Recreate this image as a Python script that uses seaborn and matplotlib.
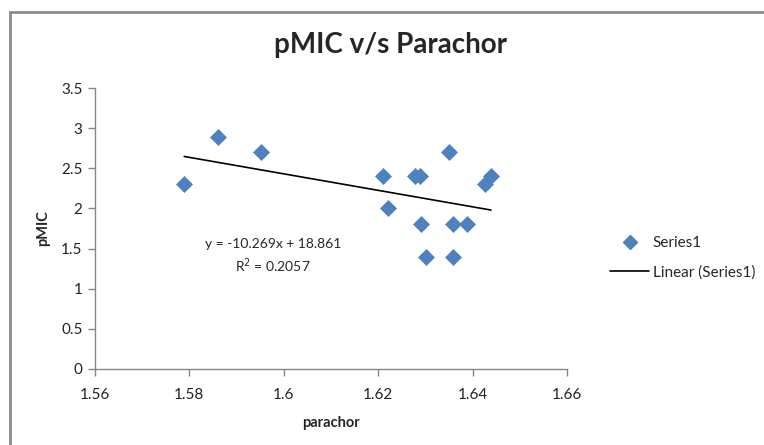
import matplotlib
matplotlib.use("Agg")
import matplotlib.pyplot as plt
import seaborn as sns
import pandas as pd
import numpy as np
from matplotlib.lines import Line2D
from matplotlib.patches import Rectangle

# ---- data ----
parachor = [1.5789, 1.5861, 1.5952, 1.6210, 1.6221, 1.6278, 1.6289, 1.6291,
            1.6301, 1.6350, 1.6358, 1.6358, 1.6388, 1.6426, 1.6439]
pmic = [2.30, 2.89, 2.70, 2.40, 2.00, 2.40, 2.40, 1.80,
        1.40, 2.70, 1.80, 1.40, 1.80, 2.30, 2.40]
slope = -10.269
intercept = 18.861
r2 = 0.2057
x_ticks = [1.56, 1.58, 1.60, 1.62, 1.64, 1.66]
x_tick_labels = ["1.56", "1.58", "1.6", "1.62", "1.64", "1.66"]
y_ticks = [0, 0.5, 1, 1.5, 2, 2.5, 3, 3.5]
y_tick_labels = ["0", "0.5", "1", "1.5", "2", "2.5", "3", "3.5"]

df = pd.DataFrame({"parachor": parachor, "pMIC": pmic})

sns.set_style("white")
plt.rcParams["font.family"] = ["Lato", "DejaVu Sans"]

W, H = 764, 445
fig = plt.figure(figsize=(W / 100, H / 100), dpi=100)
ax = fig.add_axes([95 / W, 1 - 369 / H, (567 - 95) / W, (369 - 88) / H])

grey = "#868686"
blue = "#4F81BD"

sns.scatterplot(data=df, x="parachor", y="pMIC", ax=ax, marker="D", s=66,
                color=blue, edgecolor=blue, linewidth=0.5, zorder=3, legend=False)

xs = np.array([min(parachor), max(parachor)])
trend = pd.DataFrame({"x": xs, "y": slope * xs + intercept})
sns.lineplot(data=trend, x="x", y="y", ax=ax, color="black", linewidth=1.2, zorder=2)

ax.set_xlim(1.56, 1.66)
ax.set_ylim(0, 3.5)
ax.set_xticks(x_ticks)
ax.set_xticklabels(x_tick_labels)
ax.set_yticks(y_ticks)
ax.set_yticklabels(y_tick_labels)
for s in ["top", "right"]:
    ax.spines[s].set_visible(False)
for s in ["left", "bottom"]:
    ax.spines[s].set_color(grey)
    ax.spines[s].set_linewidth(1.0)
ax.tick_params(axis="both", which="major", direction="out", length=5, width=1,
               color=grey, labelsize=11, labelcolor="#222222", pad=4,
               bottom=True, left=True)
ax.tick_params(axis="x", pad=9)

ax.set_xlabel("parachor", fontsize=10.5, fontweight="bold", labelpad=10)
ax.set_ylabel("pMIC", fontsize=10.5, fontweight="bold", labelpad=8)

fig.text(390 / W, 1 - 45 / H, "pMIC v/s Parachor", fontsize=20, fontweight="bold",
         ha="center", va="center")

fig.text(273 / W, 1 - 244 / H, f"y = {slope}x + {intercept}", fontsize=10,
         ha="center", va="center")
fig.text(273 / W, 1 - 266 / H, f"R$^2$ = {r2}", fontsize=10,
         ha="center", va="center")

# legend
handles = [Line2D([], [], marker="D", color=blue, linestyle="none", markersize=7),
           Line2D([], [], color="black", linewidth=1.2)]
fig.legend(handles, ["Series1", "Linear (Series1)"], loc="center left",
           bbox_to_anchor=(596 / W, 1 - 258 / H), frameon=False, fontsize=11,
           handlelength=2.6, handletextpad=0.2, labelspacing=1.0)

# outer chart border
fig.patches.append(Rectangle((9.5 / W, -0.1), 1.2, 1 - 11.5 / H + 0.1,
                             transform=fig.transFigure, fill=False,
                             edgecolor="#8c8c8c", linewidth=2))

fig.savefig("out.png", dpi=100)
